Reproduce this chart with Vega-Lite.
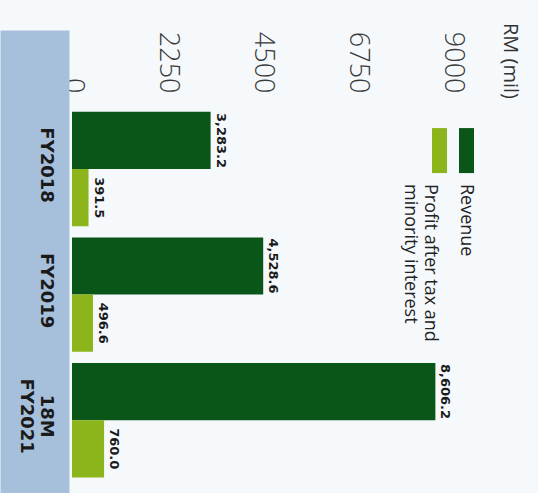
{
  "$schema": "https://vega.github.io/schema/vega-lite/v6.json",
  "width": 380,
  "height": 463,
  "autosize": {"type": "none"},
  "padding": {"left": 72, "top": 30, "right": 86, "bottom": 0},
  "background": "#f6f9fb",
  "config": {"view": {"stroke": null}},
  "title": {
    "text": "RM (mil)",
    "orient": "right",
    "anchor": "start",
    "baseline": "middle",
    "offset": 15,
    "dx": -7,
    "font": "Open Sans",
    "fontSize": 20,
    "fontWeight": "normal",
    "color": "#333333"
  },
  "data": {
    "values": [
      {"period": "FY2018", "series": "Revenue", "value": 3283.2},
      {"period": "FY2018", "series": "Profit after tax and minority interest", "value": 391.5},
      {"period": "FY2019", "series": "Revenue", "value": 4528.6},
      {"period": "FY2019", "series": "Profit after tax and minority interest", "value": 496.6},
      {"period": "18M FY2021", "series": "Revenue", "value": 8606.2},
      {"period": "18M FY2021", "series": "Profit after tax and minority interest", "value": 760.0}
    ]
  },
  "resolve": {"axis": {"y": "independent"}},
  "layer": [
    {
      "mark": {"type": "bar"},
      "encoding": {
        "y": {
          "field": "period",
          "type": "nominal",
          "sort": ["FY2018", "FY2019", "18M FY2021"],
          "scale": {"paddingInner": 0.088, "paddingOuter": 0.388, "align": 0.84},
          "axis": {
            "title": null,
            "orient": "left",
            "domain": true,
            "domainColor": "#a6c0dc",
            "domainWidth": 69,
            "offset": 37.5,
            "ticks": false,
            "labels": false,
            "grid": false
          }
        },
        "yOffset": {"field": "series", "sort": ["Revenue", "Profit after tax and minority interest"]},
        "x": {
          "field": "value",
          "type": "quantitative",
          "scale": {"domain": [0, 9000], "nice": false},
          "axis": {
            "title": null,
            "orient": "top",
            "offset": -63,
            "values": [0, 2250, 4500, 6750, 9000],
            "format": "d",
            "domain": false,
            "ticks": false,
            "grid": false,
            "labelAngle": 90,
            "labelAlign": "right",
            "labelBaseline": "middle",
            "labelPadding": 0,
            "labelFlush": false,
            "labelOverlap": false,
            "labelFont": "Open Sans",
            "labelFontWeight": 300,
            "labelFontSize": 27,
            "labelColor": "#3a3a3a"
          }
        },
        "color": {
          "field": "series",
          "type": "nominal",
          "scale": {"domain": ["Revenue", "Profit after tax and minority interest"], "range": ["#0a5619", "#8cb51b"]},
          "legend": null
        }
      }
    },
    {
      "mark": {"type": "text", "angle": 90, "align": "center", "baseline": "bottom", "dy": -3, "font": "DejaVu Sans", "fontWeight": "bold", "fontSize": 13, "color": "#1a1a1a"},
      "encoding": {
        "y": {
          "field": "period",
          "type": "nominal",
          "sort": ["FY2018", "FY2019", "18M FY2021"],
          "axis": {
            "title": null,
            "orient": "left",
            "offset": 0,
            "domain": false,
            "ticks": false,
            "grid": false,
            "labelAngle": 90,
            "labelAlign": "center",
            "labelBaseline": "top",
            "labelPadding": 18,
            "labelOffset": -4,
            "labelFont": "DejaVu Sans",
            "labelFontWeight": "bold",
            "labelFontSize": 18,
            "labelLineHeight": 20,
            "labelColor": "#1a1a1a",
            "labelExpr": "datum.label == '18M FY2021' ? ['18M', 'FY2021'] : datum.label"
          }
        },
        "yOffset": {"field": "series", "sort": ["Revenue", "Profit after tax and minority interest"]},
        "x": {"field": "value", "type": "quantitative"},
        "text": {"field": "value", "type": "quantitative", "format": ",.1f"}
      }
    },
    {
      "data": {"values": [{"series": "Revenue"}]},
      "mark": {"type": "tick", "orient": "vertical", "thickness": 15, "size": 45, "opacity": 1, "yOffset": -18.5},
      "encoding": {
        "x": {"datum": 9343, "type": "quantitative"},
        "y": {"datum": "FY2018", "type": "nominal", "axis": null},
        "color": {"field": "series", "type": "nominal"}
      }
    },
    {
      "data": {"values": [{"series": "Profit after tax and minority interest"}]},
      "mark": {"type": "tick", "orient": "vertical", "thickness": 15, "size": 45, "opacity": 1, "yOffset": -18.5},
      "encoding": {
        "x": {"datum": 8704, "type": "quantitative"},
        "y": {"datum": "FY2018", "type": "nominal", "axis": null},
        "color": {"field": "series", "type": "nominal"}
      }
    },
    {
      "data": {"values": [{"series": "Revenue"}]},
      "mark": {"type": "text", "angle": 90, "align": "left", "baseline": "middle", "font": "Open Sans", "fontSize": 18, "color": "#222222"},
      "encoding": {
        "x": {"datum": 9343, "type": "quantitative"},
        "y": {"datum": "FY2018", "type": "nominal", "bandPosition": 0.63, "axis": null},
        "text": {"value": "Revenue"}
      }
    },
    {
      "data": {"values": [{"series": "Profit after tax and minority interest"}]},
      "mark": {"type": "text", "angle": 90, "align": "left", "baseline": "middle", "font": "Open Sans", "fontSize": 18, "lineHeight": 20, "color": "#222222"},
      "encoding": {
        "x": {"datum": 8479, "type": "quantitative"},
        "y": {"datum": "FY2018", "type": "nominal", "bandPosition": 0.63, "axis": null},
        "text": {"value": ["Profit after tax and", "minority interest"]}
      }
    }
  ]
}
